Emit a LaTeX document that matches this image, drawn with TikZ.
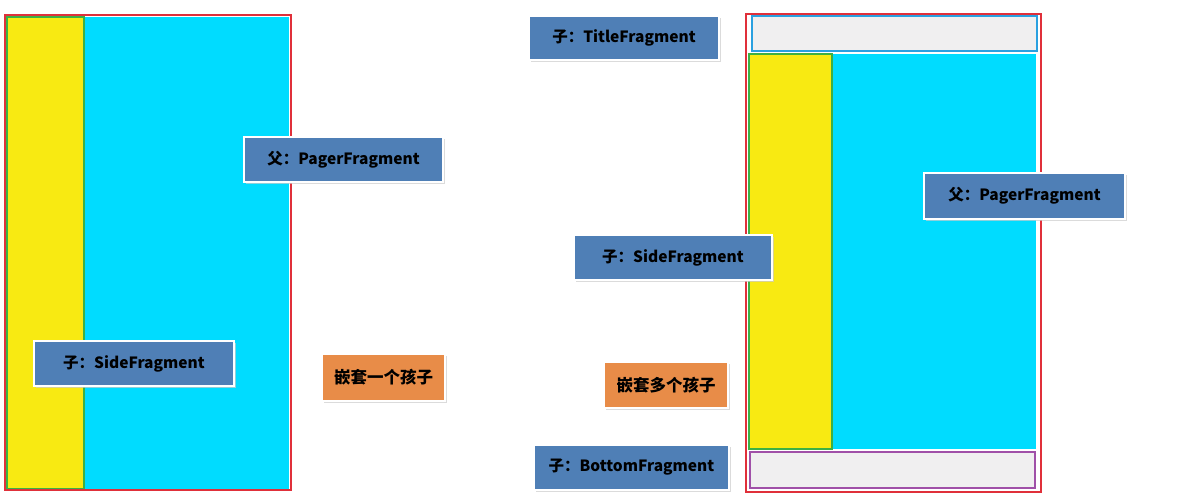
\documentclass[tikz,border=0pt]{standalone}
\usepackage{fontspec}
\setmainfont{Noto Sans CJK SC}
\usetikzlibrary{shadows}
\definecolor{lblue}{HTML}{4F7FB6}
\definecolor{lorange}{HTML}{E88C48}
\definecolor{ycol}{HTML}{F8EA12}
\definecolor{ccol}{HTML}{00DCFF}
\definecolor{gcol}{HTML}{F0EFF0}
\definecolor{rcol}{HTML}{E0303A}
\definecolor{grn}{HTML}{3CB044}
\definecolor{bord}{HTML}{2AA0E0}
\definecolor{purp}{HTML}{A050A8}
\tikzset{
  lbl/.style={fill=lblue, draw=white, line width=2.5pt, inner sep=0pt,
    font=\bfseries\fontsize{15.5}{18}\selectfont, text=black,
    drop shadow={shadow xshift=1.5pt, shadow yshift=-2pt, fill=black!20, opacity=0.7}},
  olbl/.style={lbl, fill=lorange, font=\bfseries\fontsize{16.5}{19}\selectfont},
}
\newcommand{\rbox}[6]{% name, x1,y1,x2,y2, style
  \path (#2pt,-#3pt) coordinate (#1a) (#4pt,-#5pt) coordinate (#1b);
  \draw[#6] (#1a) rectangle (#1b);}
\newcommand{\lab}[7]{% name, style, x1,y1,x2,y2,text
  \node[#2, minimum width={#5pt-#3pt}, minimum height={#6pt-#4pt}] (#1) at ({(#3+#5)/2*1pt},{-(#4+#6)/2*1pt}) {#7};}
\begin{document}
\begin{tikzpicture}
\useasboundingbox (0,0) rectangle (1187pt,-500pt);
% left panel
\rbox{lc}{84}{17}{289}{489}{fill=ccol, draw=none}
\rbox{ly}{7}{17}{84}{489}{fill=ycol, draw=grn, line width=1.2pt}
\rbox{lr}{5}{15}{291}{490}{draw=rcol, line width=1.5pt}
% right panel
\rbox{rc}{832}{54}{1036}{449}{fill=ccol, draw=none}
\rbox{ry}{749}{54}{832}{449}{fill=ycol, draw=grn, line width=1.2pt}
\rbox{rt}{752}{16}{1037}{51}{fill=gcol, draw=bord, line width=1.2pt}
\rbox{rb}{750}{452}{1035}{488}{fill=gcol, draw=purp, line width=1.2pt}
\rbox{rr}{746}{14}{1041}{492}{draw=rcol, line width=1.5pt}
% labels
\lab{l1}{lbl}{244}{137}{443}{182}{父：PagerFragment}
\lab{l2}{lbl}{34}{341}{234}{386}{子：SideFragment}
\lab{l3}{olbl}{322}{354}{445}{401}{嵌套一个孩子}
\lab{r1}{lbl}{529}{16}{719}{60}{子：TitleFragment}
\lab{r2}{lbl}{924}{173}{1125}{219}{父：PagerFragment}
\lab{r3}{lbl}{574}{235}{772}{280}{子：SideFragment}
\lab{r4}{olbl}{604}{362}{728}{408}{嵌套多个孩子}
\lab{r5}{lbl}{534}{445}{729}{490}{子：BottomFragment}
\end{tikzpicture}
\end{document}
